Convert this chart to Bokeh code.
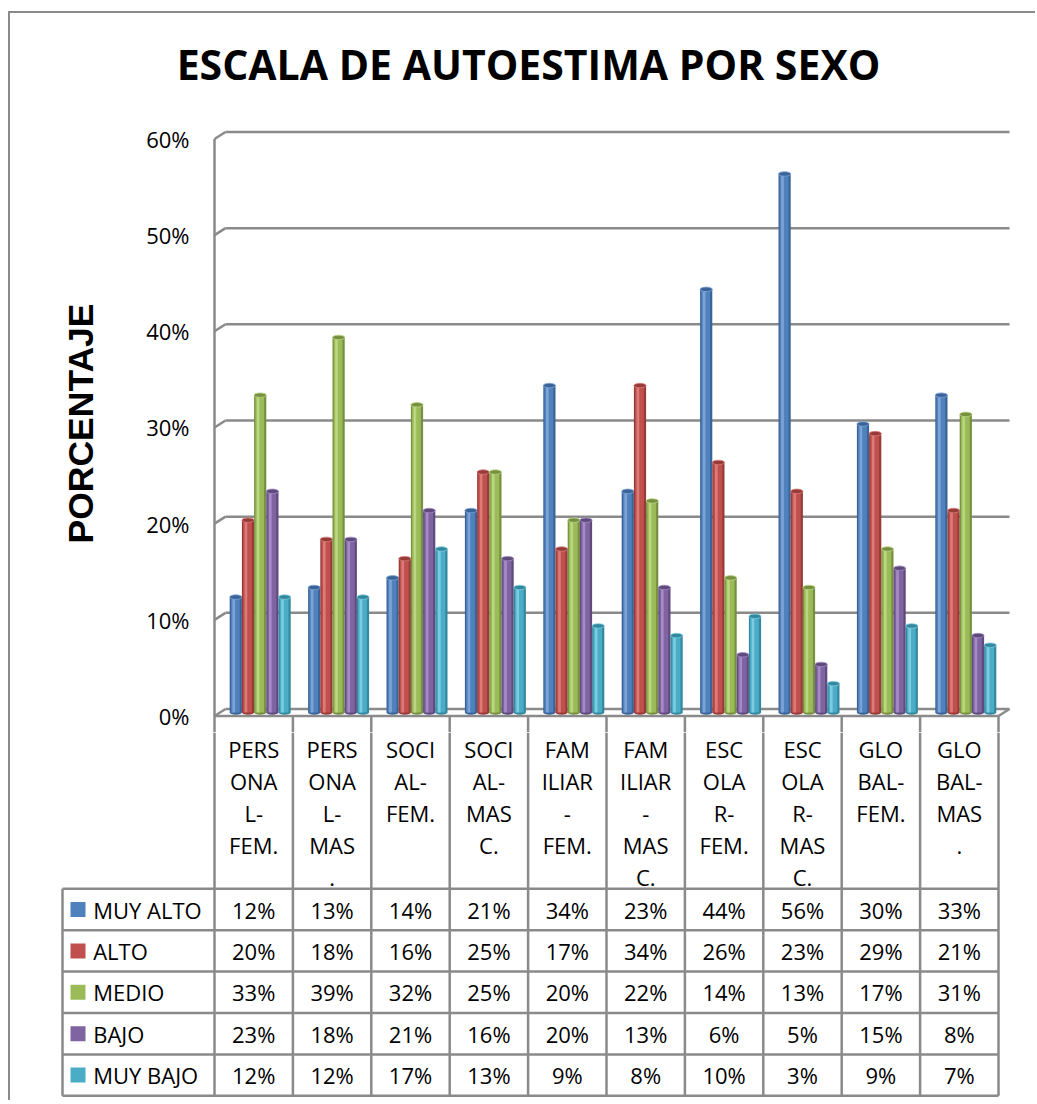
from bokeh.plotting import figure
from bokeh.models import Range1d, FixedTicker, NumeralTickFormatter, ColumnDataSource
from bokeh.layouts import column
from bokeh.embed import file_html
from bokeh.resources import INLINE
from bokeh.core.properties import value

# ---------------- data ----------------
categories = ["PERSONAL-FEM.", "PERSONAL-MAS.", "SOCIAL-FEM.", "SOCIAL-MASC.",
              "FAMILIAR-FEM.", "FAMILIAR-MASC.", "ESCOLAR-FEM.", "ESCOLAR-MASC.",
              "GLOBAL-FEM.", "GLOBAL-MAS."]
category_labels = ["PERS\nONA\nL-\nFEM.", "PERS\nONA\nL-\nMAS\n.", "SOCI\nAL-\nFEM.",
                   "SOCI\nAL-\nMAS\nC.", "FAM\nILIAR\n-\nFEM.", "FAM\nILIAR\n-\nMAS\nC.",
                   "ESC\nOLA\nR-\nFEM.", "ESC\nOLA\nR-\nMAS\nC.", "GLO\nBAL-\nFEM.",
                   "GLO\nBAL-\nMAS\n."]
series_names = ["MUY ALTO", "ALTO", "MEDIO", "BAJO", "MUY BAJO"]
muy_alto = [12, 13, 14, 21, 34, 23, 44, 56, 30, 33]
alto = [20, 18, 16, 25, 17, 34, 26, 23, 29, 21]
medio = [33, 39, 32, 25, 20, 22, 14, 13, 17, 31]
bajo = [23, 18, 21, 16, 20, 13, 6, 5, 15, 8]
muy_bajo = [12, 12, 17, 13, 9, 8, 10, 3, 9, 7]
y_ticks = [0, 0.1, 0.2, 0.3, 0.4, 0.5, 0.6]
title_text = "ESCALA DE AUTOESTIMA POR SEXO"
y_label = "PORCENTAJE"

series_values = [muy_alto, alto, medio, bajo, muy_bajo]
base_colors = ["#4F81BD", "#C0504D", "#9BBB59", "#8064A2", "#4BACC6"]
dark_colors = ["#3A6397", "#973B39", "#768F40", "#5F4A7C", "#33879E"]
light_colors = ["#7DA3D6", "#DA7B78", "#B9D680", "#A58BC6", "#7CCBE0"]

# ---------------- layout constants (page pixels) ----------------
OX, OY = 10, 13      # page position of the canvases' origin (after margin + border)
W = 1025
RIGHT = OX + W
COL_PX = 78.4        # width of one category column
X0_PAGE = 214        # page x of the wall / first column edge
Y0_PAGE = 715.5      # page y of 0% (front edge)
Y_PX = 961.7         # px per 100%
DX = 11 / COL_PX     # 3-D depth offset, x
DY = 7 / Y_PX        # 3-D depth offset, y
TITLE_BOTTOM = 114
CHART_BOTTOM = 732
TABLE_BOTTOM = 1100
FRAME_LEFT = 204
GRID = "#8A8A8A"
FONT = "Open Sans"
FS = "22px"

n = len(categories)

# ---------------- title figure ----------------
h0 = figure(width=W, height=TITLE_BOTTOM - OY, output_backend="svg", toolbar_location=None,
            x_axis_location=None, y_axis_location=None, min_border=0,
            x_range=Range1d(OX, RIGHT), y_range=Range1d(TITLE_BOTTOM, OY))
h0.frame_align = False
h0.outline_line_color = None
h0.grid.visible = False
h0.text(x=[528], y=[63], text=[title_text], text_font=value(FONT), text_font_style="bold",
        text_font_size="41px", text_align="center", text_baseline="middle", text_color="black")

# ---------------- chart figure ----------------
p = figure(width=W, height=CHART_BOTTOM - TITLE_BOTTOM, output_backend="svg",
           toolbar_location=None, x_axis_location=None, min_border=0,
           x_range=Range1d((FRAME_LEFT - X0_PAGE) / COL_PX, (RIGHT - X0_PAGE) / COL_PX),
           y_range=Range1d(-(CHART_BOTTOM - Y0_PAGE) / Y_PX, (Y0_PAGE - TITLE_BOTTOM) / Y_PX))
p.frame_align = False
p.min_border_left = FRAME_LEFT - OX
p.min_border_top = 0
p.min_border_right = 0
p.min_border_bottom = 0
p.outline_line_color = None
p.grid.visible = False

ax = p.yaxis[0]
ax.ticker = FixedTicker(ticks=y_ticks)
ax.formatter = NumeralTickFormatter(format="0%")
ax.axis_line_color = None
ax.major_tick_line_color = None
ax.minor_tick_line_color = None
ax.major_label_standoff = 9
ax.major_label_text_font = FONT
ax.major_label_text_font_size = FS
ax.major_label_text_color = "black"
ax.axis_label = y_label
ax.axis_label_text_font = "Liberation Sans"
ax.axis_label_text_font_style = "bold"
ax.axis_label_text_font_size = "35.5px"
ax.axis_label_text_color = "black"
ax.axis_label_standoff = 42

# walls: left edge, diagonals, back gridlines, floor
p.segment(x0=[0], y0=[0], x1=[0], y1=[max(y_ticks)], line_color=GRID, line_width=2.5)
p.segment(x0=[0] * len(y_ticks), y0=y_ticks, x1=[DX] * len(y_ticks),
          y1=[t + DY for t in y_ticks], line_color=GRID, line_width=2.5)
p.segment(x0=[DX] * len(y_ticks), y0=[t + DY for t in y_ticks],
          x1=[n + DX] * len(y_ticks), y1=[t + DY for t in y_ticks],
          line_color=GRID, line_width=2.5)
p.segment(x0=[0, n], y0=[0, 0], x1=[n, n + DX], y1=[0, DY], line_color=GRID, line_width=2.5)
# top of the data-table column rules, below the floor
y_bot = -(CHART_BOTTOM - Y0_PAGE) / Y_PX
p.segment(x0=list(range(n + 1)), y0=[0] * (n + 1), x1=list(range(n + 1)),
          y1=[y_bot] * (n + 1), line_color=GRID, line_width=2.5)

# bars (cylinders)
BW = 12.2 / COL_PX
SHIFT = 6.5 / COL_PX
CAP = 4.5 / Y_PX
base = DY / 2
for s, vals in enumerate(series_values):
    xs = [i + 0.5 + SHIFT + (s - 2) * BW for i in range(n)]
    tops = [v / 100 + base for v in vals]
    src = ColumnDataSource(dict(x=xs, top=tops,
                                xm=[x - 0.04 * BW for x in xs],
                                xl=[x - 0.17 * BW for x in xs]))
    p.ellipse(x="x", y=base, width=BW, height=CAP, source=src,
              fill_color=dark_colors[s], line_color=None)
    p.vbar(x="x", bottom=base, top="top", width=BW, source=src,
           fill_color=dark_colors[s], line_color=None)
    p.vbar(x="xm", bottom=base, top="top", width=BW * 0.72, source=src,
           fill_color=base_colors[s], line_color=None)
    p.vbar(x="xl", bottom=base, top="top", width=BW * 0.22, source=src,
           fill_color=light_colors[s], line_color=None)
    p.ellipse(x="x", y="top", width=BW, height=CAP, source=src,
              fill_color=dark_colors[s], line_color=light_colors[s], line_width=0.8)

# ---------------- data table figure ----------------
ROW_PX = 41.4
ROW0_PAGE = 888.3
t = figure(width=W, height=TABLE_BOTTOM - CHART_BOTTOM, output_backend="svg",
           toolbar_location=None, x_axis_location=None, y_axis_location=None, min_border=0,
           x_range=Range1d((58 - X0_PAGE) / COL_PX, (RIGHT - X0_PAGE) / COL_PX),
           y_range=Range1d((TABLE_BOTTOM - ROW0_PAGE) / ROW_PX, (CHART_BOTTOM - ROW0_PAGE) / ROW_PX))
t.frame_align = False
t.min_border_left = 58 - OX
t.min_border_right = 0
t.min_border_top = 0
t.min_border_bottom = 0
t.outline_line_color = None
t.grid.visible = False

nrows = len(series_names)
legend_left = (62 - X0_PAGE) / COL_PX
header_top = (CHART_BOTTOM - ROW0_PAGE) / ROW_PX
t.segment(x0=[legend_left] * (nrows + 1), y0=list(range(nrows + 1)),
          x1=[n] * (nrows + 1), y1=list(range(nrows + 1)), line_color=GRID, line_width=2.5)
t.segment(x0=[legend_left], y0=[0], x1=[legend_left], y1=[nrows], line_color=GRID, line_width=2.5)
t.segment(x0=list(range(n + 1)), y0=[header_top] * (n + 1), x1=list(range(n + 1)),
          y1=[nrows] * (n + 1), line_color=GRID, line_width=2.5)

# header (category) labels
t.text(x=[i + 0.5 for i in range(n)], y=[(CHART_BOTTOM + 1 - ROW0_PAGE) / ROW_PX] * n,
       text=category_labels,
       text_font=value(FONT), text_font_size=FS, text_align="center",
       text_baseline="top", text_line_height=1.07, text_color="black")

# legend keys
t.scatter(x=[(77.5 - X0_PAGE) / COL_PX] * nrows, y=[r + 0.5 for r in range(nrows)],
          marker="square", size=15, fill_color=base_colors, line_color=None)
t.text(x=[(92.7 - X0_PAGE) / COL_PX] * nrows, y=[r + 0.5 for r in range(nrows)],
       text=series_names, text_font=value(FONT), text_font_size=FS,
       text_align="left", text_baseline="middle", text_color="black")

# values
vx, vy, vt = [], [], []
for r, vals in enumerate(series_values):
    for i, v in enumerate(vals):
        vx.append(i + 0.5)
        vy.append(r + 0.5)
        vt.append(f"{v}%")
t.text(x=vx, y=vy, text=vt, text_font=value(FONT), text_font_size=FS,
       text_align="center", text_baseline="middle", text_color="black")

layout = column(h0, p, t, styles={"border-left": "2px solid #8A8A8A",
                                  "border-top": "2px solid #8A8A8A",
                                  "margin-left": "8px", "margin-top": "11px"})
open("out.html", "w").write(file_html(layout, INLINE))
